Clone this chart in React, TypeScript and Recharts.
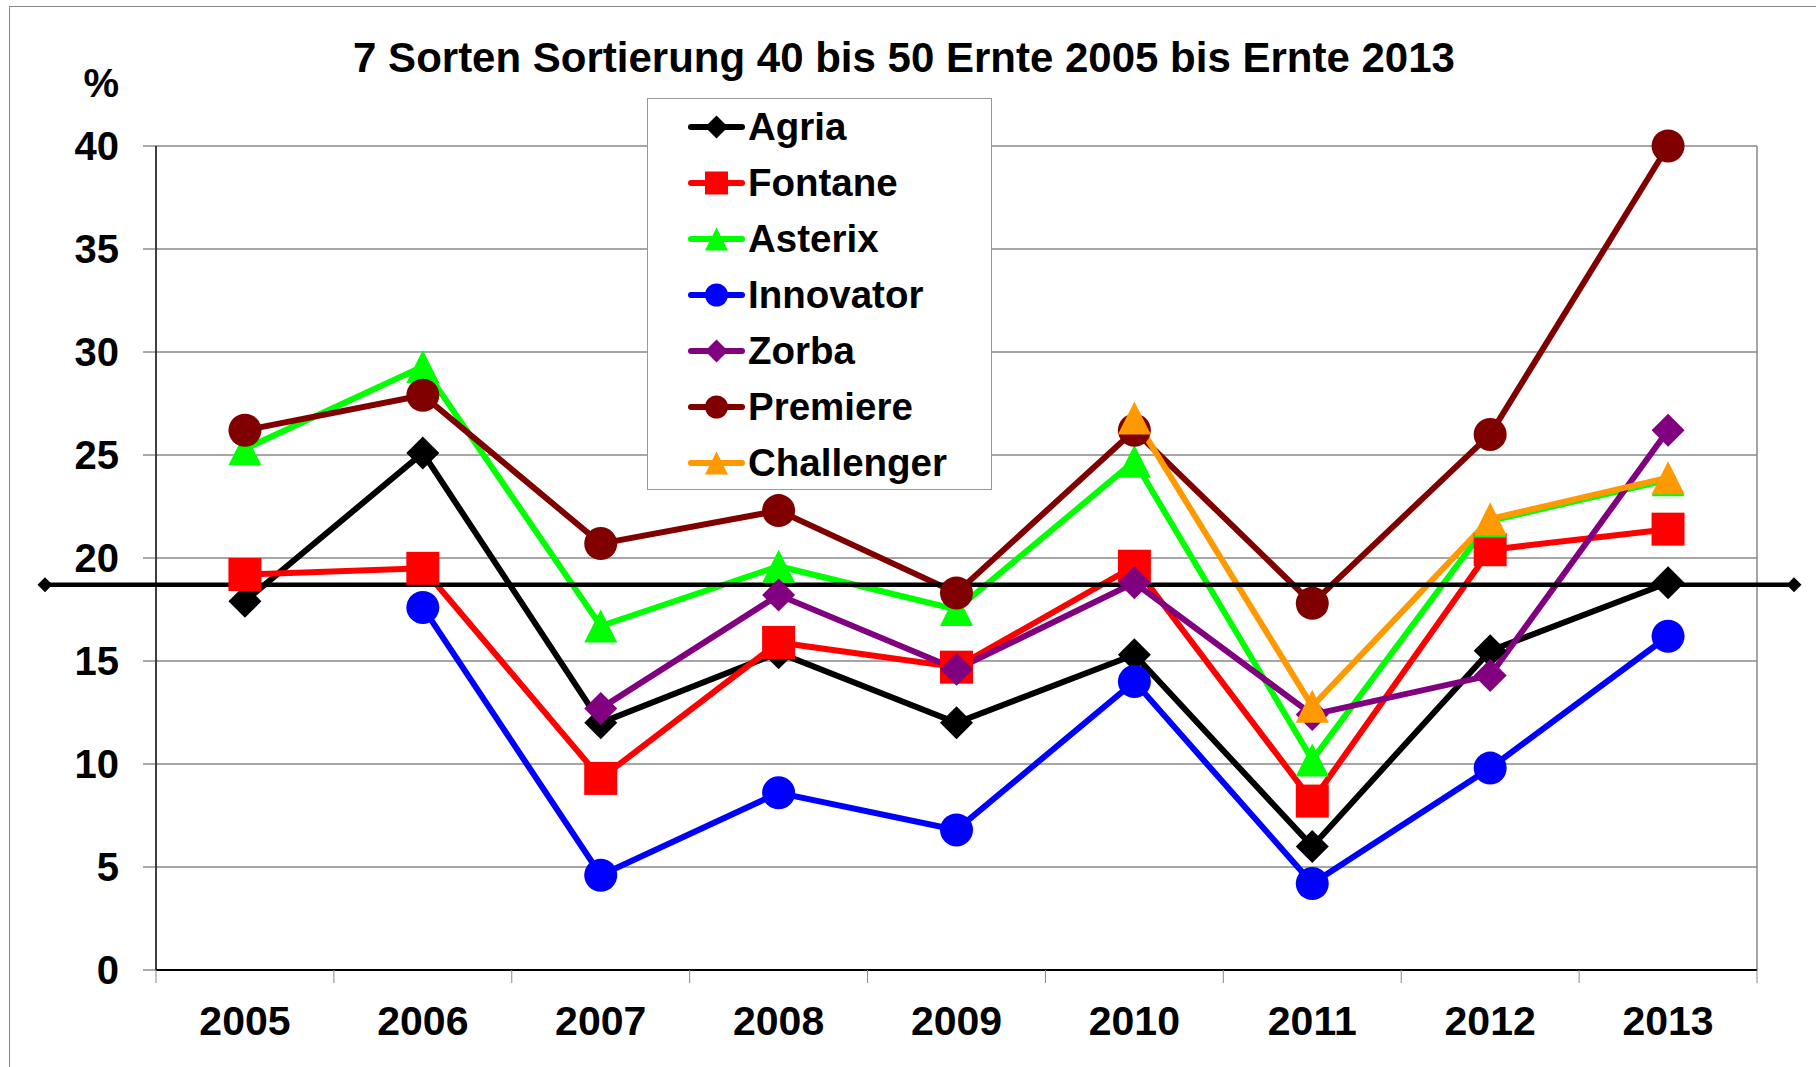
import { LineChart, Line, XAxis, YAxis, CartesianGrid, Legend, ReferenceLine } from 'recharts';

// harvest years and share of grading 40-50 mm (%)
const years = ['2005', '2006', '2007', '2008', '2009', '2010', '2011', '2012', '2013'];
const agria = [17.9, 25.1, 12.0, 15.4, 12.0, 15.3, 6.0, 15.5, 18.8];
const fontane = [19.2, 19.5, 9.3, 15.9, 14.7, 19.6, 8.2, 20.4, 21.4];
const asterix = [25.3, 29.3, 16.7, 19.6, 17.5, 24.7, 10.2, 21.8, 23.8];
const innovator = [null, 17.6, 4.6, 8.6, 6.8, 14.0, 4.2, 9.8, 16.2];
const zorba = [null, null, 12.7, 18.2, 14.6, 18.8, 12.4, 14.3, 26.2];
const premiere = [26.2, 27.9, 20.7, 22.3, 18.3, 26.2, 17.8, 26.0, 40.0];
const challenger = [null, null, null, null, null, 26.8, 12.8, 21.9, 23.9];
const average = 18.7;
const yTicks = [0, 5, 10, 15, 20, 25, 30, 35, 40];

const FONT = '"Liberation Sans", Arial, Helvetica, sans-serif';
const W = 1816;
const H = 1067;
const Y_W = 156;
const RIGHT = 59;
const BAND = (W - Y_W - RIGHT) / years.length;
const MARK = 33;

type Shape = 'diamond' | 'square' | 'triangle' | 'circle';

const series: { key: string; values: (number | null)[]; color: string; shape: Shape }[] = [
  { key: 'Agria', values: agria, color: '#000000', shape: 'diamond' },
  { key: 'Fontane', values: fontane, color: '#FF0000', shape: 'square' },
  { key: 'Asterix', values: asterix, color: '#00FF00', shape: 'triangle' },
  { key: 'Innovator', values: innovator, color: '#0000FF', shape: 'circle' },
  { key: 'Zorba', values: zorba, color: '#800080', shape: 'diamond' },
  { key: 'Premiere', values: premiere, color: '#800000', shape: 'circle' },
  { key: 'Challenger', values: challenger, color: '#FF9900', shape: 'triangle' },
];

const rows = years.map((year, i) => {
  const row: Record<string, string | number | null> = { year };
  series.forEach((s) => (row[s.key] = s.values[i]));
  return row;
});

function Marker({ cx, cy, size, shape, color }: { cx: number; cy: number; size: number; shape: Shape; color: string }) {
  const h = size / 2;
  if (shape === 'diamond')
    return <polygon points={`${cx},${cy - h} ${cx + h},${cy} ${cx},${cy + h} ${cx - h},${cy}`} fill={color} />;
  if (shape === 'square') return <rect x={cx - h} y={cy - h} width={size} height={size} fill={color} />;
  if (shape === 'triangle')
    return <polygon points={`${cx},${cy - h} ${cx + h},${cy + h} ${cx - h},${cy + h}`} fill={color} />;
  return <circle cx={cx} cy={cy} r={h} fill={color} />;
}

const YearTick = (props: any) => {
  const { x, y, payload, index } = props;
  const left = x - BAND / 2;
  return (
    <g>
      <line x1={left} y1={y} x2={left} y2={y + 13} stroke="#888" />
      {index === years.length - 1 && <line x1={x + BAND / 2} y1={y} x2={x + BAND / 2} y2={y + 13} stroke="#888" />}
      <text x={x} y={y + 65} textAnchor="middle" fontFamily={FONT} fontWeight={700} fontSize={41} fill="#000">
        {payload.value}
      </text>
    </g>
  );
};

const AverageLine = (p: any) => {
  const a = p.x1 - 111;
  const b = p.x2 + 37;
  return (
    <g>
      <line x1={a} y1={p.y1} x2={b} y2={p.y1} stroke="#000" strokeWidth={4.5} />
      <Marker cx={a} cy={p.y1} size={15} shape="diamond" color="#000" />
      <Marker cx={b} cy={p.y1} size={15} shape="diamond" color="#000" />
    </g>
  );
};

const LegendBox = () => (
  <div
    style={{
      width: 345,
      height: 392,
      boxSizing: 'border-box',
      border: '1px solid #999',
      background: '#fff',
    }}
  >
    {series.map((s) => (
      <div key={s.key} style={{ height: 56, display: 'flex', alignItems: 'center' }}>
        <svg width={59} height={30} style={{ marginLeft: 39, marginRight: 2 }}>
          <line x1={4} y1={15} x2={55} y2={15} stroke={s.color} strokeWidth={6} strokeLinecap="round" />
          <Marker cx={29.5} cy={15} size={23} shape={s.shape} color={s.color} />
        </svg>
        <span style={{ fontFamily: FONT, fontWeight: 700, fontSize: 38.5, lineHeight: '56px', color: '#000' }}>
          {s.key}
        </span>
      </div>
    ))}
  </div>
);

export default function App() {
  return (
    <div style={{ position: 'absolute', left: 0, top: 0, width: W, height: H, background: '#fff' }}>
      <div
        style={{
          position: 'absolute',
          left: 9,
          top: 6,
          width: W - 9,
          height: H - 6,
          borderTop: '1px solid #888',
          borderLeft: '1px solid #888',
        }}
      />
      <LineChart width={W} height={H} data={rows} margin={{ top: 146, right: RIGHT, bottom: 0, left: 0 }}>
        <CartesianGrid
          stroke="#888"
          strokeWidth={1.5}
          verticalCoordinatesGenerator={({ offset }: any) => [offset.left + offset.width]}
        />
        <XAxis
          dataKey="year"
          interval={0}
          height={97}
          padding={{ left: BAND / 2, right: BAND / 2 }}
          tickSize={0}
          tickMargin={0}
          tickLine={false}
          axisLine={{ stroke: '#000', strokeWidth: 2 }}
          tick={<YearTick />}
        />
        <YAxis
          domain={[0, 40]}
          ticks={yTicks}
          interval={0}
          width={Y_W}
          tickSize={13}
          tickMargin={24}
          tickLine={{ stroke: '#555' }}
          axisLine={{ stroke: '#000', strokeWidth: 1.5 }}
          tick={{ fontFamily: FONT, fontWeight: 700, fontSize: 40, fill: '#000' }}
        />
        <Legend
          layout="vertical"
          align="center"
          verticalAlign="middle"
          content={<LegendBox />}
          wrapperStyle={{ left: 647, top: 98, width: 345, height: 392 }}
        />
        {series.map((s) => (
          <Line
            key={s.key}
            dataKey={s.key}
            type="linear"
            stroke={s.color}
            strokeWidth={6}
            isAnimationActive={false}
            activeDot={false}
            dot={(p: any) =>
              p.value == null || p.cy == null ? (
                <g key={`${s.key}-${p.index}`} />
              ) : (
                <Marker key={`${s.key}-${p.index}`} cx={p.cx} cy={p.cy} size={MARK} shape={s.shape} color={s.color} />
              )
            }
          />
        ))}
        <ReferenceLine y={average} shape={<AverageLine />} />
      </LineChart>
      <svg width={W} height={H} style={{ position: 'absolute', left: 0, top: 0, pointerEvents: 'none' }}>
        <text x={904} y={72} textAnchor="middle" fontFamily={FONT} fontWeight={700} fontSize={42} fill="#000">
          7 Sorten Sortierung 40 bis 50 Ernte 2005 bis Ernte 2013
        </text>
        <text x={119} y={97} textAnchor="end" fontFamily={FONT} fontWeight={700} fontSize={40} fill="#000">
          %
        </text>
      </svg>
    </div>
  );
}
